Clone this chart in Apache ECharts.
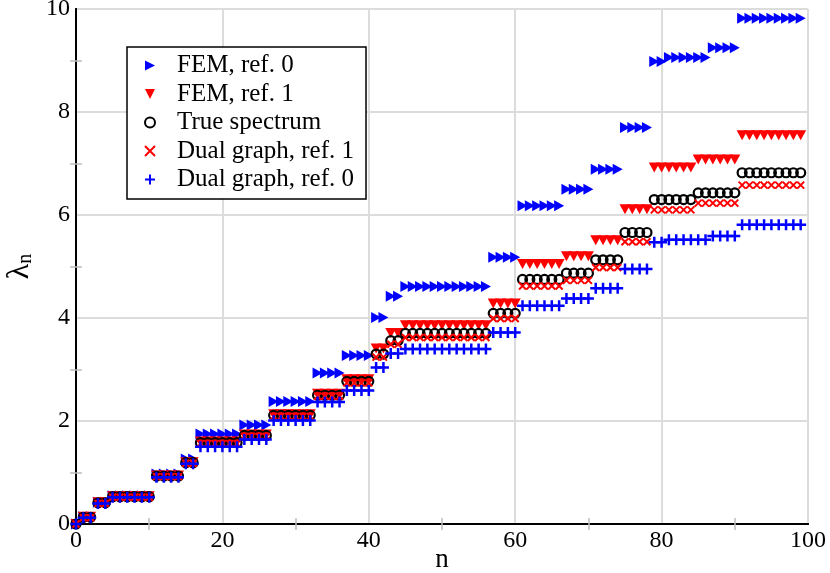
<!DOCTYPE html>
<html>
<head>
<meta charset="utf-8">
<script src="https://cdn.jsdelivr.net/npm/echarts@6/dist/echarts.min.js"></script>
<style>
html,body{margin:0;padding:0;background:#fff;}
#chart{width:830px;height:573px;}
</style>
</head>
<body>
<div id="chart"></div>
<script>
// index n = 0..99
const nValues = Array.from({length: 100}, (_, i) => i);

const femRef0 = [
  0,
  0.14, 0.14,
  0.42, 0.42,
  0.55, 0.55, 0.55, 0.55, 0.55, 0.55,
  0.97, 0.97, 0.97, 0.97,
  1.26, 1.26,
  1.75, 1.75, 1.75, 1.75, 1.75, 1.75,
  1.92, 1.92, 1.92, 1.92,
  2.38, 2.38, 2.38, 2.38, 2.38, 2.38,
  2.93, 2.93, 2.93, 2.93,
  3.27, 3.27, 3.27, 3.27,
  4.01, 4.01,
  4.42, 4.42,
  4.61, 4.61, 4.61, 4.61, 4.61, 4.61, 4.61, 4.61, 4.61, 4.61, 4.61, 4.61,
  5.18, 5.18, 5.18, 5.18,
  6.18, 6.18, 6.18, 6.18, 6.18, 6.18,
  6.50, 6.50, 6.50, 6.50,
  6.89, 6.89, 6.89, 6.89,
  7.70, 7.70, 7.70, 7.70,
  8.98, 8.98,
  9.06, 9.06, 9.06, 9.06, 9.06, 9.06,
  9.25, 9.25, 9.25, 9.25,
  9.82, 9.82, 9.82, 9.82, 9.82, 9.82, 9.82, 9.82, 9.82
];

const femRef1 = [
  0,
  0.14, 0.14,
  0.42, 0.42,
  0.54, 0.54, 0.54, 0.54, 0.54, 0.54,
  0.94, 0.94, 0.94, 0.94,
  1.20, 1.20,
  1.60, 1.60, 1.60, 1.60, 1.60, 1.60,
  1.74, 1.74, 1.74, 1.74,
  2.13, 2.13, 2.13, 2.13, 2.13, 2.13,
  2.53, 2.53, 2.53, 2.53,
  2.81, 2.81, 2.81, 2.81,
  3.41, 3.41,
  3.71, 3.71,
  3.86, 3.86, 3.86, 3.86, 3.86, 3.86, 3.86, 3.86, 3.86, 3.86, 3.86, 3.86,
  4.28, 4.28, 4.28, 4.28,
  5.05, 5.05, 5.05, 5.05, 5.05, 5.05,
  5.20, 5.20, 5.20, 5.20,
  5.51, 5.51, 5.51, 5.51,
  6.11, 6.11, 6.11, 6.11,
  6.92, 6.92, 6.92, 6.92, 6.92, 6.92,
  7.08, 7.08, 7.08, 7.08, 7.08, 7.08,
  7.55, 7.55, 7.55, 7.55, 7.55, 7.55, 7.55, 7.55, 7.55
];

const trueSpectrum = [
  0,
  0.13, 0.13,
  0.41, 0.41,
  0.53, 0.53, 0.53, 0.53, 0.53, 0.53,
  0.93, 0.93, 0.93, 0.93,
  1.19, 1.19,
  1.58, 1.58, 1.58, 1.58, 1.58, 1.58,
  1.72, 1.72, 1.72, 1.72,
  2.11, 2.11, 2.11, 2.11, 2.11, 2.11,
  2.50, 2.50, 2.50, 2.50,
  2.77, 2.77, 2.77, 2.77,
  3.30, 3.30,
  3.56, 3.56,
  3.70, 3.70, 3.70, 3.70, 3.70, 3.70, 3.70, 3.70, 3.70, 3.70, 3.70, 3.70,
  4.09, 4.09, 4.09, 4.09,
  4.75, 4.75, 4.75, 4.75, 4.75, 4.75,
  4.87, 4.87, 4.87, 4.87,
  5.13, 5.13, 5.13, 5.13,
  5.66, 5.66, 5.66, 5.66,
  6.30, 6.30, 6.30, 6.30, 6.30, 6.30,
  6.43, 6.43, 6.43, 6.43, 6.43, 6.43,
  6.82, 6.82, 6.82, 6.82, 6.82, 6.82, 6.82, 6.82, 6.82
];

const dualRef1 = [
  0,
  0.12, 0.12,
  0.40, 0.40,
  0.52, 0.52, 0.52, 0.52, 0.52, 0.52,
  0.92, 0.92, 0.92, 0.92,
  1.18, 1.18,
  1.56, 1.56, 1.56, 1.56, 1.56, 1.56,
  1.70, 1.70, 1.70, 1.70,
  2.09, 2.09, 2.09, 2.09, 2.09, 2.09,
  2.48, 2.48, 2.48, 2.48,
  2.74, 2.74, 2.74, 2.74,
  3.24, 3.24,
  3.49, 3.49,
  3.62, 3.62, 3.62, 3.62, 3.62, 3.62, 3.62, 3.62, 3.62, 3.62, 3.62, 3.62,
  3.99, 3.99, 3.99, 3.99,
  4.62, 4.62, 4.62, 4.62, 4.62, 4.62,
  4.73, 4.73, 4.73, 4.73,
  4.98, 4.98, 4.98, 4.98,
  5.48, 5.48, 5.48, 5.48,
  6.10, 6.10, 6.10, 6.10, 6.10, 6.10,
  6.23, 6.23, 6.23, 6.23, 6.23, 6.23,
  6.58, 6.58, 6.58, 6.58, 6.58, 6.58, 6.58, 6.58, 6.58
];

const dualRef0 = [
  0,
  0.12, 0.12,
  0.40, 0.40,
  0.52, 0.52, 0.52, 0.52, 0.52, 0.52,
  0.91, 0.91, 0.91, 0.91,
  1.17, 1.17,
  1.50, 1.50, 1.50, 1.50, 1.50, 1.50,
  1.64, 1.64, 1.64, 1.64,
  2.01, 2.01, 2.01, 2.01, 2.01, 2.01,
  2.37, 2.37, 2.37, 2.37,
  2.59, 2.59, 2.59, 2.59,
  3.04, 3.04,
  3.31, 3.31,
  3.40, 3.40, 3.40, 3.40, 3.40, 3.40, 3.40, 3.40, 3.40, 3.40, 3.40, 3.40,
  3.72, 3.72, 3.72, 3.72,
  4.24, 4.24, 4.24, 4.24, 4.24, 4.24,
  4.38, 4.38, 4.38, 4.38,
  4.58, 4.58, 4.58, 4.58,
  4.95, 4.95, 4.95, 4.95,
  5.47, 5.47,
  5.52, 5.52, 5.52, 5.52, 5.52, 5.52,
  5.59, 5.59, 5.59, 5.59,
  5.81, 5.81, 5.81, 5.81, 5.81, 5.81, 5.81, 5.81, 5.81
];

const seriesNames = ['FEM, ref. 0', 'FEM, ref. 1', 'True spectrum', 'Dual graph, ref. 1', 'Dual graph, ref. 0'];
const xTicks = {min: 0, max: 100, interval: 20};
const yTicks = {min: 0, max: 10, interval: 2};

const FONT = 'Liberation Serif';
const pairs = arr => nValues.map((n, i) => [n, arr[i]]);

const SYM_RIGHT = 'path://M0,0L10,5L0,10Z';
const SYM_DOWN = 'path://M0,0L10,0L5,10Z';
const SYM_X = 'path://M0,0L10,10M10,0L0,10';
const SYM_PLUS = 'path://M5,0L5,10M0,5L10,5';

const minorTickStyle = {show: true, splitNumber: 2, length: 6, lineStyle: {color: '#bdbdbd', width: 1.5}};
const axisLineStyle = {show: true, lineStyle: {color: '#000', width: 2}};

const chart = echarts.init(document.getElementById('chart'), null, {renderer: 'canvas'});
chart.setOption({
  animation: false,
  backgroundColor: '#fff',
  grid: {left: 76, right: 22, top: 9, bottom: 49, containLabel: false, outerBoundsMode: 'none'},
  legend: {
    orient: 'vertical',
    left: 127, top: 47,
    padding: [6, 12, 7, 17],
    itemGap: 3.5,
    itemWidth: 44, itemHeight: 10,
    borderColor: '#000', borderWidth: 1.5, backgroundColor: '#fff',
    borderRadius: 0,
    textStyle: {fontFamily: FONT, fontSize: 25, color: '#000', lineHeight: 25},
    data: seriesNames
  },
  xAxis: [{
    type: 'value', position: 'bottom',
    min: xTicks.min, max: xTicks.max, interval: xTicks.interval,
    axisLine: axisLineStyle,
    axisTick: {show: false, inside: true},
    minorTick: minorTickStyle,
    splitLine: {show: true, lineStyle: {color: '#dcdcdc', width: 2}},
    axisLabel: {fontFamily: FONT, fontSize: 24, color: '#000', margin: 5},
    name: 'n', nameLocation: 'middle', nameGap: 22, nameMoveOverlap: false,
    nameTextStyle: {fontFamily: FONT, fontSize: 27, color: '#000'}
  }, {
    type: 'value', position: 'top',
    min: xTicks.min, max: xTicks.max, interval: xTicks.interval,
    axisLine: axisLineStyle,
    axisTick: {show: false, inside: true},
    minorTick: minorTickStyle,
    splitLine: {show: false},
    axisLabel: {show: false}
  }],
  yAxis: [{
    type: 'value', position: 'left',
    min: yTicks.min, max: yTicks.max, interval: yTicks.interval,
    axisLine: axisLineStyle,
    axisTick: {show: false, inside: true},
    minorTick: minorTickStyle,
    splitLine: {show: true, lineStyle: {color: '#dcdcdc', width: 2}},
    axisLabel: {fontFamily: FONT, fontSize: 24, color: '#000', margin: 6},
    name: '{l|λ}{s|n}', nameLocation: 'middle', nameGap: 40, nameMoveOverlap: false,
    nameTextStyle: {
      fontFamily: FONT, color: '#000',
      rich: {
        l: {fontFamily: FONT, fontSize: 32, color: '#000', verticalAlign: 'bottom', lineHeight: 30},
        s: {fontFamily: FONT, fontSize: 20, color: '#000', verticalAlign: 'bottom', lineHeight: 24}
      }
    }
  }, {
    type: 'value', position: 'right',
    min: yTicks.min, max: yTicks.max, interval: yTicks.interval,
    axisLine: axisLineStyle,
    axisTick: {show: false, inside: true},
    minorTick: minorTickStyle,
    splitLine: {show: false},
    axisLabel: {show: false}
  }],
  series: [
    {
      name: seriesNames[0], type: 'scatter', data: pairs(femRef0),
      symbol: SYM_RIGHT, symbolSize: [10, 11],
      itemStyle: {color: '#0000ff', opacity: 1}
    },
    {
      name: seriesNames[1], type: 'scatter', data: pairs(femRef1),
      symbol: SYM_DOWN, symbolSize: [11, 10],
      itemStyle: {color: '#ff0000', opacity: 1}
    },
    {
      name: seriesNames[2], type: 'scatter', data: pairs(trueSpectrum),
      symbol: 'circle', symbolSize: 9,
      itemStyle: {color: 'rgba(0,0,0,0)', borderColor: '#000', borderWidth: 2.2, opacity: 1}
    },
    {
      name: seriesNames[3], type: 'scatter', data: pairs(dualRef1),
      symbol: SYM_X, symbolSize: [7, 7],
      itemStyle: {color: '#ff0000', borderColor: '#ff0000', borderWidth: 2, opacity: 1}
    },
    {
      name: seriesNames[4], type: 'scatter', data: pairs(dualRef0),
      symbol: SYM_PLUS, symbolSize: [11, 11],
      itemStyle: {color: '#0000ff', borderColor: '#0000ff', borderWidth: 2.5, opacity: 1}
    }
  ]
});
</script>
</body>
</html>
